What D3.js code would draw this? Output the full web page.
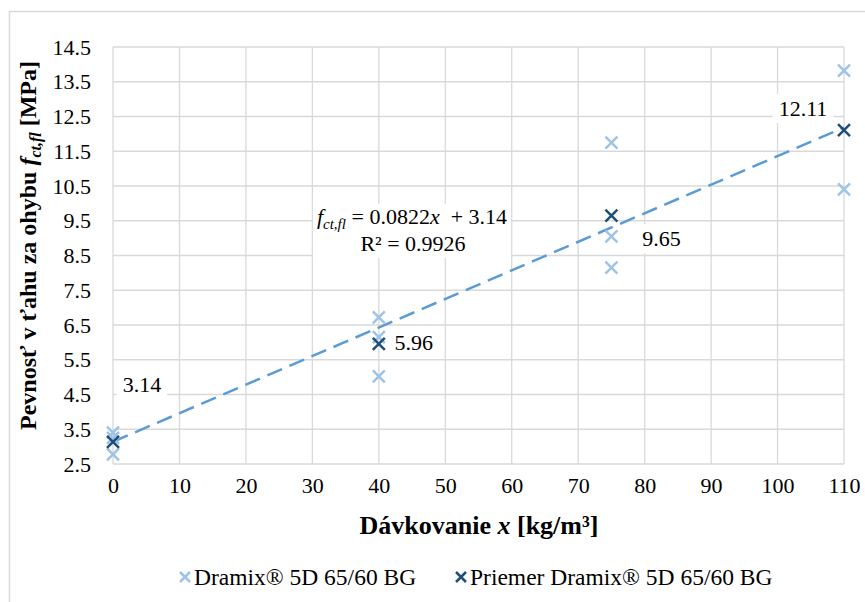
<!DOCTYPE html>
<html>
<head>
<meta charset="utf-8">
<script src="https://cdn.jsdelivr.net/npm/d3@7"></script>
<style>
  body { margin: 0; background: #fff; }
  text { font-family: "Liberation Serif", "Times New Roman", serif; fill: #000; }
</style>
</head>
<body>
<div id="chart"></div>
<script>
// namerane hodnoty
const dosage = [0, 0, 0, 40, 40, 40, 75, 75, 75, 110, 110];
const strength = [3.40, 3.25, 2.78, 6.72, 6.15, 5.02, 11.75, 9.05, 8.15, 13.82, 10.40];
// priemery
const avgDosage = [0, 40, 75, 110];
const avgStrength = [3.14, 5.96, 9.65, 12.11];
const xTicks = [0, 10, 20, 30, 40, 50, 60, 70, 80, 90, 100, 110];
const yTicks = [2.5, 3.5, 4.5, 5.5, 6.5, 7.5, 8.5, 9.5, 10.5, 11.5, 12.5, 13.5, 14.5];
const slope = 0.0822, intercept = 3.14;

const W = 865, H = 602;
const m = { left: 113, right: 21, top: 47, bottom: 138 };
const svg = d3.select('#chart').append('svg').attr('width', W).attr('height', H);

// ram grafu
svg.append('rect').attr('x', 9.5).attr('y', 11.5).attr('width', W).attr('height', H)
  .attr('fill', 'none').attr('stroke', '#d9d9d9').attr('stroke-width', 1.5);

const x = d3.scaleLinear().domain([0, 110]).range([m.left, W - m.right]);
const y = d3.scaleLinear().domain([2.5, 14.5]).range([H - m.bottom, m.top]);

const g = svg.append('g');
// mriezka
g.selectAll('.gx').data(xTicks).join('line')
  .attr('x1', d => x(d)).attr('x2', d => x(d)).attr('y1', y(2.5)).attr('y2', y(14.5))
  .attr('stroke', '#d9d9d9').attr('stroke-width', 1.3);
g.selectAll('.gy').data(yTicks).join('line')
  .attr('x1', x(0)).attr('x2', x(110)).attr('y1', d => y(d)).attr('y2', d => y(d))
  .attr('stroke', '#d9d9d9').attr('stroke-width', 1.3);

// popisy osi
const xAxis = svg.append('g').attr('transform', `translate(0,${y(2.5)})`)
  .call(d3.axisBottom(x).tickValues(xTicks).tickSize(0).tickPadding(13).tickFormat(d3.format('d')));
const yAxis = svg.append('g').attr('transform', `translate(${x(0)},0)`)
  .call(d3.axisLeft(y).tickValues(yTicks).tickSize(0).tickPadding(22).tickFormat(d3.format('.1f')));
[xAxis, yAxis].forEach(a => {
  a.select('.domain').remove();
  a.selectAll('text').style('font-size', '22px').style('font-family', '"Liberation Serif", serif').attr('fill', '#000');
});
xAxis.selectAll('text').attr('dy', '0.71em');

// trend
const line = d3.line().x(d => x(d)).y(d => y(slope * d + intercept));
g.append('path').datum([0, 110]).attr('d', line)
  .attr('fill', 'none').attr('stroke', '#5b9bd5').attr('stroke-width', 2.5)
  .attr('stroke-dasharray', '16,8');

function cross(sel, s, color, w) {
  sel.append('path').attr('d', `M${-s},${-s}L${s},${s}M${-s},${s}L${s},${-s}`)
    .attr('stroke', color).attr('stroke-width', w).attr('fill', 'none');
}

dosage.forEach((d, i) => {
  const c = g.append('g').attr('transform', `translate(${x(d)},${y(strength[i])})`);
  cross(c, 6, '#9dc3e6', 2.5);
});
avgDosage.forEach((d, i) => {
  const c = g.append('g').attr('transform', `translate(${x(d)},${y(avgStrength[i])})`);
  cross(c, 6, '#1f4e79', 2.5);
});

// popisky hodnot
const lblOff = [[29, -57], [35, -1], [50, 23], [-41, -22]];
avgDosage.forEach((d, i) => {
  const lx = x(d) + lblOff[i][0], ly = y(avgStrength[i]) + lblOff[i][1];
  const t = svg.append('text').attr('x', lx).attr('y', ly).attr('text-anchor', 'middle')
    .attr('dy', '0.35em').style('font-size', '22px').text(avgStrength[i].toFixed(2));
  const b = t.node().getBBox();
  svg.insert('rect', () => t.node()).attr('x', b.x - 6).attr('y', b.y - 2)
    .attr('width', b.width + 12).attr('height', b.height + 4).attr('fill', '#fff');
});

// rovnica
const eq = svg.append('g');
const eqBg = eq.append('rect').attr('fill', '#fff');
const e1 = eq.append('text').attr('x', 412).attr('y', 224).attr('text-anchor', 'middle')
  .style('font-size', '22px');
e1.append('tspan').style('font-style', 'italic').text('f');
e1.append('tspan').style('font-style', 'italic').style('font-size', '15px').attr('dy', 5).text('ct,fl');
e1.append('tspan').attr('dy', -5).text(' = 0.0822');
e1.append('tspan').style('font-style', 'italic').text('x');
e1.append('tspan').text('\u00a0 + 3.14');
eq.append('text').attr('x', 413).attr('y', 251).attr('text-anchor', 'middle').style('font-size', '22px').text('R² = 0.9926');
const eb = eq.node().getBBox();
eqBg.attr('x', eb.x - 4).attr('y', eb.y).attr('width', eb.width + 8).attr('height', eb.height + 2);

// nazvy osi
const xt = svg.append('text').attr('x', 479).attr('y', 534).attr('text-anchor', 'middle')
  .style('font-size', '26px').style('font-weight', 'bold');
xt.append('tspan').text('Dávkovanie ');
xt.append('tspan').style('font-style', 'italic').text('x');
xt.append('tspan').text(' [kg/m³]');

const yt = svg.append('text').attr('transform', `translate(36,${y(8.5) - 10}) rotate(-90)`).attr('text-anchor', 'middle')
  .style('font-size', '24px').style('font-weight', 'bold');
yt.append('tspan').text('Pevnosť v ťahu za ohybu ');
yt.append('tspan').style('font-style', 'italic').text('f');
yt.append('tspan').style('font-style', 'italic').style('font-size', '16px').attr('dy', 5).text('ct,fl');
yt.append('tspan').attr('dy', -5).text(' [MPa]');

// legenda
const legend = [
  { name: 'Dramix® 5D 65/60 BG', color: '#9dc3e6', x: 185 },
  { name: 'Priemer Dramix® 5D 65/60 BG', color: '#1f4e79', x: 461 }
];
legend.forEach(l => {
  const lg = svg.append('g').attr('transform', `translate(${l.x},577)`);
  cross(lg, 5, l.color, 2.5);
  lg.append('text').attr('x', 9).attr('dy', '0.35em').style('font-size', '23.5px').text(l.name);
});
</script>
</body>
</html>
